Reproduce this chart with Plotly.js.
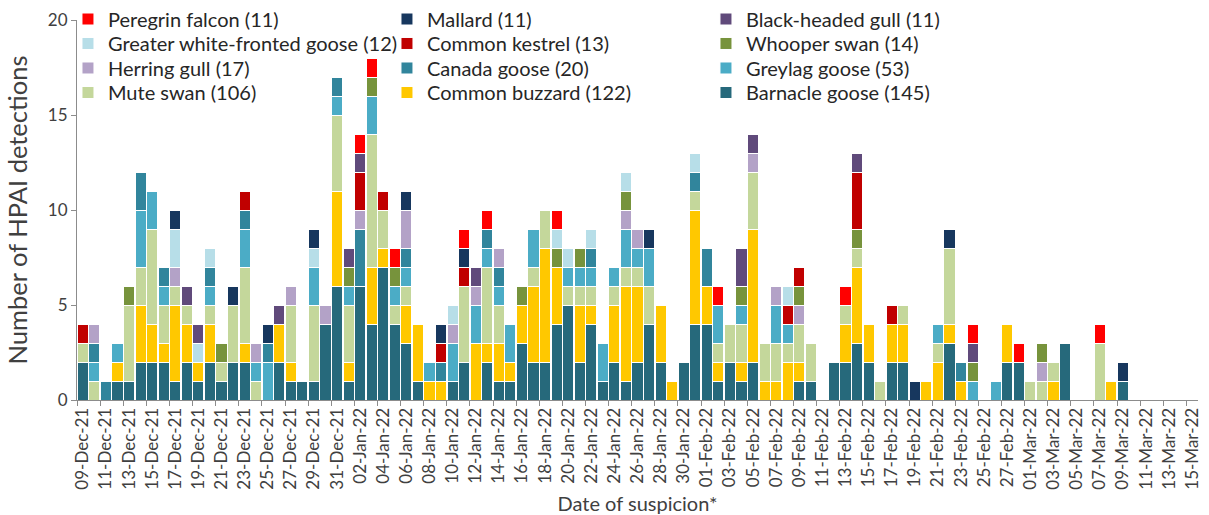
<!DOCTYPE html>
<html><head><meta charset="utf-8">
<script src="https://cdn.plot.ly/plotly-3.0.1.min.js"></script>
<style>html,body{margin:0;padding:0;background:#fff}#chart{width:1209px;height:515px}</style>
</head><body><div id="chart"></div>
<script>
const dates = [
"09-Dec-21","10-Dec-21","11-Dec-21","12-Dec-21","13-Dec-21","14-Dec-21","15-Dec-21","16-Dec-21","17-Dec-21","18-Dec-21",
"19-Dec-21","20-Dec-21","21-Dec-21","22-Dec-21","23-Dec-21","24-Dec-21","25-Dec-21","26-Dec-21","27-Dec-21","28-Dec-21",
"29-Dec-21","30-Dec-21","31-Dec-21","01-Jan-22","02-Jan-22","03-Jan-22","04-Jan-22","05-Jan-22","06-Jan-22","07-Jan-22",
"08-Jan-22","09-Jan-22","10-Jan-22","11-Jan-22","12-Jan-22","13-Jan-22","14-Jan-22","15-Jan-22","16-Jan-22","17-Jan-22",
"18-Jan-22","19-Jan-22","20-Jan-22","21-Jan-22","22-Jan-22","23-Jan-22","24-Jan-22","25-Jan-22","26-Jan-22","27-Jan-22",
"28-Jan-22","29-Jan-22","30-Jan-22","31-Jan-22","01-Feb-22","02-Feb-22","03-Feb-22","04-Feb-22","05-Feb-22","06-Feb-22",
"07-Feb-22","08-Feb-22","09-Feb-22","10-Feb-22","11-Feb-22","12-Feb-22","13-Feb-22","14-Feb-22","15-Feb-22","16-Feb-22",
"17-Feb-22","18-Feb-22","19-Feb-22","20-Feb-22","21-Feb-22","22-Feb-22","23-Feb-22","24-Feb-22","25-Feb-22","26-Feb-22",
"27-Feb-22","28-Feb-22","01-Mar-22","02-Mar-22","03-Mar-22","04-Mar-22","05-Mar-22","06-Mar-22","07-Mar-22","08-Mar-22",
"09-Mar-22","10-Mar-22","11-Mar-22","12-Mar-22","13-Mar-22","14-Mar-22","15-Mar-22"];

const barnacleGoose = [
2,0,0,1,1,2,2,2,1,2,
1,2,1,2,2,0,0,2,1,1,
1,4,6,1,6,4,7,4,3,1,
0,0,1,2,0,2,1,1,3,2,
2,4,5,2,4,1,2,1,2,4,
2,0,2,4,4,1,2,1,2,0,
0,0,1,1,0,2,2,3,2,0,
2,2,0,0,0,3,0,0,0,0,
2,2,0,0,0,3,0,0,0,0,
1,0,0,0,0,0,0];
const commonBuzzard = [
0,0,0,1,0,3,2,1,4,2,
1,2,0,0,1,0,0,2,1,0,
0,0,5,1,0,3,1,0,2,3,
1,1,0,0,3,1,2,1,2,4,
6,3,0,3,1,0,3,5,4,0,
3,1,0,6,2,1,0,1,7,1,
1,2,1,0,0,0,2,4,2,0,
2,2,0,1,2,1,1,0,0,0,
2,0,0,0,1,0,0,0,0,1,
0,0,0,0,0,0,0];
const muteSwan = [
1,1,0,0,4,2,5,2,1,1,
0,1,1,3,4,1,0,0,3,0,
4,0,4,3,0,7,2,1,1,0,
0,0,0,4,0,4,2,0,0,1,
2,0,1,1,1,0,1,1,1,2,
0,0,0,1,0,1,2,2,3,2,
2,1,2,2,0,0,1,1,0,1,
0,1,0,0,1,4,0,0,0,0,
0,0,1,1,1,0,0,0,3,0,
0,0,0,0,0,0,0];
const greylagGoose = [
0,1,0,1,0,3,2,1,0,0,
0,1,0,0,2,1,2,0,0,0,
2,0,1,1,0,2,0,1,1,0,
1,0,2,0,2,1,1,2,0,2,
0,0,1,1,1,2,1,2,1,2,
0,0,0,0,0,2,0,1,0,0,
2,1,0,0,0,0,0,0,0,0,
0,0,0,0,1,0,0,1,0,1,
0,0,0,0,0,0,0,0,0,0,
0,0,0,0,0,0,0];
const canadaGoose = [
0,1,1,0,0,2,0,1,0,0,
0,1,0,0,1,0,1,0,0,0,
0,0,1,0,3,0,0,0,1,0,
0,1,0,0,0,1,1,0,0,0,
0,0,0,0,1,0,0,0,0,0,
0,0,0,1,2,0,0,0,0,0,
0,0,0,0,0,0,0,0,0,0,
0,0,0,0,0,0,1,0,0,0,
0,0,0,0,0,0,0,0,0,0,
0,0,0,0,0,0,0];
const herringGull = [
0,1,0,0,0,0,0,0,1,0,
0,0,0,0,0,1,0,0,1,0,
0,1,0,0,1,0,0,0,2,0,
0,0,1,0,1,0,1,0,0,0,
0,0,0,0,0,0,0,1,1,0,
0,0,0,0,0,0,0,0,1,0,
1,0,1,0,0,0,0,0,0,0,
0,0,0,0,0,0,0,0,0,0,
0,0,0,1,0,0,0,0,0,0,
0,0,0,0,0,0,0];
const whooperSwan = [
0,0,0,0,1,0,0,0,0,0,
0,0,1,0,0,0,0,0,0,0,
0,0,0,1,0,1,0,1,0,0,
0,0,0,0,0,0,0,0,1,0,
0,1,0,1,0,0,0,1,0,0,
0,0,0,0,0,0,0,1,0,0,
0,0,1,0,0,0,0,1,0,0,
0,0,0,0,0,0,0,1,0,0,
0,0,0,1,0,0,0,0,0,0,
0,0,0,0,0,0,0];
const commonKestrel = [
1,0,0,0,0,0,0,0,0,0,
0,0,0,0,1,0,0,0,0,0,
0,0,0,0,2,0,1,0,0,0,
0,1,0,1,0,0,0,0,0,0,
0,0,0,0,0,0,0,0,0,0,
0,0,0,0,0,0,0,0,0,0,
0,1,1,0,0,0,0,3,0,0,
1,0,0,0,0,0,0,0,0,0,
0,0,0,0,0,0,0,0,0,0,
0,0,0,0,0,0,0];
const greaterWhiteFrontedGoose = [
0,0,0,0,0,0,0,0,2,0,
1,1,0,0,0,0,0,0,0,0,
1,0,0,0,0,0,0,0,0,0,
0,0,1,0,0,0,0,0,0,0,
0,1,1,0,1,0,0,1,0,0,
0,0,0,1,0,0,0,0,0,0,
0,1,0,0,0,0,0,0,0,0,
0,0,0,0,0,0,0,0,0,0,
0,0,0,0,0,0,0,0,0,0,
0,0,0,0,0,0,0];
const blackHeadedGull = [
0,0,0,0,0,0,0,0,0,1,
1,0,0,0,0,0,0,1,0,0,
0,0,0,1,1,0,0,0,0,0,
0,0,0,0,1,0,0,0,0,0,
0,0,0,0,0,0,0,0,0,0,
0,0,0,0,0,0,0,2,1,0,
0,0,0,0,0,0,0,1,0,0,
0,0,0,0,0,0,0,1,0,0,
0,0,0,0,0,0,0,0,0,0,
0,0,0,0,0,0,0];
const mallard = [
0,0,0,0,0,0,0,0,1,0,
0,0,0,1,0,0,1,0,0,0,
1,0,0,0,0,0,0,0,1,0,
0,1,0,1,0,0,0,0,0,0,
0,0,0,0,0,0,0,0,0,1,
0,0,0,0,0,0,0,0,0,0,
0,0,0,0,0,0,0,0,0,0,
0,0,1,0,0,1,0,0,0,0,
0,0,0,0,0,0,0,0,0,0,
1,0,0,0,0,0,0];
const peregrinFalcon = [
0,0,0,0,0,0,0,0,0,0,
0,0,0,0,0,0,0,0,0,0,
0,0,0,0,1,1,0,1,0,0,
0,0,0,1,0,1,0,0,0,0,
0,1,0,0,0,0,0,0,0,0,
0,0,0,0,0,1,0,0,0,0,
0,0,0,0,0,0,1,0,0,0,
0,0,0,0,0,0,0,1,0,0,
0,1,0,0,0,0,0,0,1,0,
0,0,0,0,0,0,0];

// stacking order: bottom first
const seriesNames = [
"Barnacle goose (145)","Common buzzard (122)","Mute swan (106)","Greylag goose (53)",
"Canada goose (20)","Herring gull (17)","Whooper swan (14)","Common kestrel (13)",
"Greater white-fronted goose (12)","Black-headed gull (11)","Mallard (11)","Peregrin falcon (11)"];
const seriesValues = [barnacleGoose, commonBuzzard, muteSwan, greylagGoose, canadaGoose, herringGull,
  whooperSwan, commonKestrel, greaterWhiteFrontedGoose, blackHeadedGull, mallard, peregrinFalcon];
const seriesColors = ["#26697B","#FFC800","#C4D79B","#4BACC6","#31859C","#B3A2C7",
  "#77933C","#C00000","#B7DEE8","#604A7B","#17375E","#FF0000"];
// position in the legend (reading order, 3 per row)
const legendRanks = [12,11,10,9,8,7,6,5,4,3,2,1];

const FONT = "Lato, Carlito, Calibri, 'Open Sans', sans-serif";
const legendIds = ["legend","legend2","legend3","legend4"];

const traces = seriesNames.map((n, k) => ({
  type: "bar",
  name: n,
  x: dates,
  y: seriesValues[k].map(v => v === 0 ? null : v),
  marker: {color: seriesColors[k], line: {color: "#ffffff", width: 1}},
  legendrank: legendRanks[k],
  legend: legendIds[Math.floor((legendRanks[k] - 1) / 3)],
  hoverinfo: "x+y+name"
}));

const rowCenters = [1.0026, 0.9382, 0.8737, 0.8092];
function rowLegend(yv) {
  return {
    orientation: "h", x: 0.4188, xanchor: "center", y: yv, yanchor: "middle",
    entrywidth: 274, traceorder: "normal",
    font: {family: FONT, size: 20, color: "#262626"},
    bgcolor: "rgba(0,0,0,0)", borderwidth: 0
  };
}

const layout = {
  width: 1209, height: 515,
  margin: {l: 77, r: 11, t: 20, b: 115, autoexpand: false},
  paper_bgcolor: "#ffffff", plot_bgcolor: "#ffffff",
  barmode: "stack", bargap: 0.04,
  font: {family: FONT, color: "#404040", size: 17},
  showlegend: true,
  legend: rowLegend(rowCenters[0]),
  legend2: rowLegend(rowCenters[1]),
  legend3: rowLegend(rowCenters[2]),
  legend4: rowLegend(rowCenters[3]),
  xaxis: {
    type: "category",
    tickmode: "linear", tick0: 0, dtick: 2,
    tickson: "boundaries",
    tickangle: -90,
    ticks: "outside", ticklen: 5, tickcolor: "#8C8C8C",
    showline: true, linecolor: "#8C8C8C", linewidth: 1,
    showgrid: false, zeroline: false,
    tickfont: {family: FONT, size: 17, color: "#404040"},
    title: {text: "Date of suspicion*", font: {family: FONT, size: 20, color: "#404040"}, standoff: 8}
  },
  yaxis: {
    range: [0, 20], tickmode: "linear", tick0: 0, dtick: 5,
    ticks: "outside", ticklen: 5, tickcolor: "#8C8C8C",
    showline: true, linecolor: "#8C8C8C", linewidth: 1,
    showgrid: false, zeroline: false,
    tickfont: {family: FONT, size: 17, color: "#404040"},
    title: {text: "Number of HPAI detections\u2003\u2009", font: {family: FONT, size: 25.5, color: "#404040"}, standoff: 12}
  }
};

Plotly.newPlot("chart", traces, layout, {displayModeBar: false, staticPlot: true});
</script>
</body></html>
